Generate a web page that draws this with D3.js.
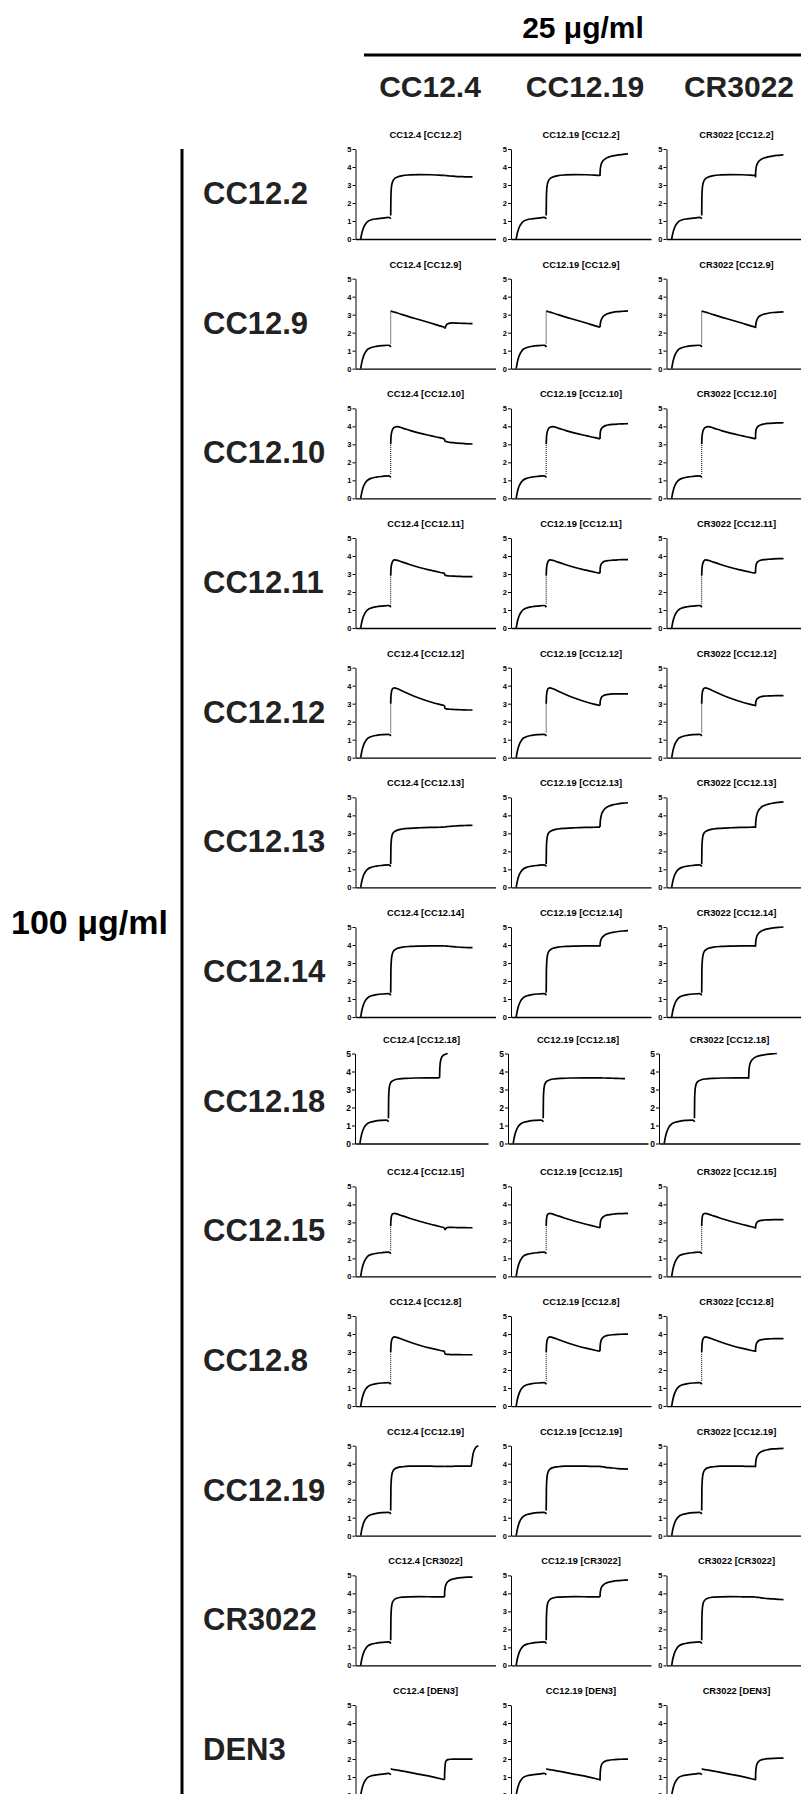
<!DOCTYPE html>
<html>
<head>
<meta charset="utf-8">
<script src="https://cdn.jsdelivr.net/npm/d3@7"></script>
<style>
  body { margin: 0; background: #fff; }
  svg { display: block; font-family: "Liberation Sans", Arial, Helvetica, sans-serif; }
</style>
</head>
<body>
<div id="container"></div>
<script>
/*
    Chart data
*/
var rowNames = ["CC12.2", "CC12.9", "CC12.10", "CC12.11", "CC12.12", "CC12.13", "CC12.14",
                "CC12.18", "CC12.15", "CC12.8", "CC12.19", "CR3022", "DEN3"];
var colNames = ["CC12.4", "CC12.19", "CR3022"];
var rowConc = "100 \u03bcg/ml";
var colConc = "25 \u03bcg/ml";
var yTicks = [0, 1, 2, 3, 4, 5];

// time points (s) of each step
var t1 = [26, 29, 33, 38, 45, 53, 62, 80, 105, 135, 165, 172, 176];
var t2 = [176, 177, 179, 182, 187, 195, 210, 235, 270, 320, 380, 420, 445];
var t3 = [445, 446, 448, 451, 456, 463, 473, 488, 508, 535, 560, 585];
// CC12.4 [CC12.19] keeps its plateau longer before the last rise
var t3Late = [445, 470, 500, 530, 560, 578, 583, 587, 592, 598, 606, 614];

// step 1 : loading, one array per row
var step1 = [
  [0, 0.18, 0.38, 0.56, 0.74, 0.88, 0.98, 1.07, 1.12, 1.16, 1.2, 1.18, 1.12],
  [0, 0.2, 0.42, 0.62, 0.82, 0.97, 1.08, 1.18, 1.24, 1.28, 1.3, 1.28, 1.2],
  [0, 0.19, 0.4, 0.6, 0.78, 0.92, 1.02, 1.12, 1.18, 1.22, 1.25, 1.23, 1.15],
  [0, 0.19, 0.4, 0.6, 0.78, 0.92, 1.02, 1.12, 1.18, 1.22, 1.25, 1.23, 1.15],
  [0, 0.2, 0.42, 0.62, 0.82, 0.97, 1.08, 1.18, 1.24, 1.28, 1.3, 1.28, 1.2],
  [0, 0.19, 0.4, 0.6, 0.78, 0.92, 1.02, 1.12, 1.18, 1.22, 1.25, 1.23, 1.15],
  [0, 0.2, 0.42, 0.62, 0.82, 0.97, 1.08, 1.18, 1.24, 1.28, 1.3, 1.28, 1.2],
  [0, 0.2, 0.42, 0.62, 0.82, 0.97, 1.08, 1.18, 1.24, 1.28, 1.3, 1.28, 1.2],
  [0, 0.21, 0.44, 0.65, 0.85, 1.0, 1.12, 1.22, 1.28, 1.32, 1.35, 1.33, 1.25],
  [0, 0.2, 0.42, 0.62, 0.82, 0.97, 1.08, 1.18, 1.24, 1.28, 1.3, 1.28, 1.2],
  [0, 0.2, 0.42, 0.62, 0.82, 0.97, 1.08, 1.18, 1.24, 1.28, 1.3, 1.28, 1.2],
  [0, 0.2, 0.42, 0.62, 0.82, 0.97, 1.08, 1.18, 1.24, 1.28, 1.3, 1.28, 1.2],
  [0, 0.18, 0.38, 0.56, 0.74, 0.88, 0.98, 1.07, 1.12, 1.16, 1.2, 1.18, 1.12]
];

// step 2 : first antibody (100 ug/ml), one array per row
var step2 = [
  [1.3, 2.3, 2.8, 3.05, 3.22, 3.35, 3.45, 3.52, 3.56, 3.58, 3.57, 3.55, 3.53],
  [3.2, 3.2, 3.19, 3.18, 3.16, 3.14, 3.09, 3.0, 2.88, 2.72, 2.52, 2.38, 2.3],
  [3.0, 3.3, 3.55, 3.72, 3.86, 3.95, 3.98, 3.9, 3.78, 3.62, 3.47, 3.37, 3.3],
  [2.9, 3.2, 3.45, 3.6, 3.72, 3.78, 3.76, 3.66, 3.53, 3.36, 3.2, 3.1, 3.05],
  [3.0, 3.35, 3.6, 3.75, 3.85, 3.88, 3.83, 3.7, 3.52, 3.3, 3.08, 2.96, 2.9],
  [1.3, 2.2, 2.6, 2.85, 3.0, 3.1, 3.18, 3.24, 3.28, 3.31, 3.33, 3.34, 3.35],
  [1.35, 2.6, 3.1, 3.4, 3.6, 3.72, 3.82, 3.88, 3.92, 3.94, 3.95, 3.95, 3.95],
  [1.4, 2.5, 2.95, 3.2, 3.36, 3.46, 3.54, 3.59, 3.62, 3.64, 3.65, 3.65, 3.65],
  [2.8, 3.1, 3.3, 3.42, 3.48, 3.5, 3.46, 3.36, 3.23, 3.06, 2.88, 2.77, 2.7],
  [3.0, 3.3, 3.55, 3.7, 3.8, 3.84, 3.8, 3.7, 3.56, 3.38, 3.2, 3.1, 3.05],
  [1.4, 2.6, 3.1, 3.4, 3.58, 3.7, 3.78, 3.83, 3.86, 3.87, 3.86, 3.85, 3.85],
  [1.4, 2.6, 3.1, 3.38, 3.55, 3.66, 3.74, 3.79, 3.81, 3.82, 3.81, 3.8, 3.8],
  [1.45, 1.45, 1.44, 1.43, 1.42, 1.41, 1.38, 1.33, 1.26, 1.15, 1.02, 0.92, 0.85]
];

// dotted rise between step 1 and step 2
var dottedRise = [false, true, true, true, true, false, false, false, true, true, false, false, false];

// step 3 : second antibody (25 ug/ml), [CC12.4, CC12.19, CR3022] per row
var step3 = [
  [[3.53, 3.53, 3.53, 3.52, 3.52, 3.51, 3.5, 3.49, 3.47, 3.46, 3.45, 3.45],
   [3.5, 3.8, 4.0, 4.15, 4.28, 4.38, 4.47, 4.55, 4.62, 4.67, 4.7, 4.73],
   [3.42, 3.75, 3.95, 4.1, 4.22, 4.33, 4.42, 4.5, 4.56, 4.62, 4.65, 4.68]],
  [[2.3, 2.26, 2.25, 2.35, 2.45, 2.5, 2.53, 2.54, 2.53, 2.52, 2.51, 2.5],
   [2.3, 2.45, 2.58, 2.7, 2.82, 2.92, 3.0, 3.07, 3.13, 3.17, 3.19, 3.21],
   [2.25, 2.4, 2.55, 2.68, 2.8, 2.9, 2.97, 3.03, 3.08, 3.12, 3.14, 3.15]],
  [[3.3, 3.22, 3.18, 3.16, 3.15, 3.13, 3.11, 3.09, 3.07, 3.05, 3.03, 3.02],
   [3.3, 3.6, 3.75, 3.85, 3.93, 3.99, 4.04, 4.08, 4.11, 4.13, 4.14, 4.15],
   [3.3, 3.65, 3.8, 3.9, 3.98, 4.04, 4.09, 4.13, 4.16, 4.18, 4.19, 4.2]],
  [[3.05, 2.97, 2.93, 2.92, 2.91, 2.9, 2.89, 2.88, 2.87, 2.86, 2.85, 2.85],
   [3.05, 3.3, 3.45, 3.55, 3.62, 3.68, 3.72, 3.75, 3.77, 3.79, 3.8, 3.8],
   [3.05, 3.35, 3.5, 3.6, 3.67, 3.73, 3.77, 3.8, 3.82, 3.84, 3.85, 3.85]],
  [[2.9, 2.8, 2.74, 2.72, 2.71, 2.7, 2.69, 2.68, 2.67, 2.66, 2.65, 2.65],
   [2.9, 3.1, 3.22, 3.32, 3.4, 3.45, 3.49, 3.52, 3.54, 3.55, 3.55, 3.55],
   [2.85, 3.05, 3.15, 3.24, 3.3, 3.35, 3.39, 3.42, 3.43, 3.44, 3.45, 3.45]],
  [[3.35, 3.35, 3.36, 3.36, 3.37, 3.38, 3.39, 3.4, 3.42, 3.43, 3.44, 3.45],
   [3.35, 3.6, 3.8, 3.98, 4.15, 4.28, 4.4, 4.5, 4.58, 4.64, 4.68, 4.7],
   [3.3, 3.6, 3.82, 4.0, 4.18, 4.32, 4.44, 4.54, 4.62, 4.68, 4.72, 4.75]],
  [[3.95, 3.95, 3.95, 3.94, 3.94, 3.93, 3.92, 3.91, 3.89, 3.87, 3.86, 3.85],
   [3.92, 4.1, 4.22, 4.32, 4.42, 4.5, 4.58, 4.65, 4.7, 4.75, 4.78, 4.8],
   [3.9, 4.15, 4.32, 4.46, 4.58, 4.68, 4.76, 4.84, 4.9, 4.95, 4.98, 5.0]],
  [[3.65, 4.05, 4.4, 4.62, 4.78, 4.88, 4.95, 5.0],
   [3.65, 3.65, 3.65, 3.65, 3.65, 3.65, 3.64, 3.64, 3.63, 3.62, 3.61, 3.6],
   [3.6, 3.95, 4.2, 4.4, 4.55, 4.66, 4.76, 4.84, 4.9, 4.95, 4.98, 5.0]],
  [[2.7, 2.62, 2.6, 2.65, 2.7, 2.72, 2.72, 2.72, 2.71, 2.71, 2.7, 2.7],
   [2.7, 2.9, 3.05, 3.16, 3.25, 3.32, 3.38, 3.42, 3.45, 3.48, 3.49, 3.5],
   [2.65, 2.8, 2.9, 2.98, 3.04, 3.08, 3.11, 3.13, 3.14, 3.15, 3.15, 3.15]],
  [[3.05, 2.95, 2.9, 2.88, 2.87, 2.87, 2.86, 2.86, 2.86, 2.85, 2.85, 2.85],
   [3.05, 3.35, 3.52, 3.65, 3.75, 3.83, 3.89, 3.93, 3.96, 3.98, 3.99, 4.0],
   [3.0, 3.25, 3.4, 3.5, 3.58, 3.64, 3.68, 3.71, 3.73, 3.74, 3.75, 3.75]],
  [[3.85, 3.85, 3.86, 3.86, 3.86, 3.86, 4.2, 4.5, 4.7, 4.85, 4.95, 5.0],
   [3.85, 3.85, 3.84, 3.84, 3.83, 3.82, 3.8, 3.78, 3.76, 3.73, 3.71, 3.7],
   [3.8, 4.05, 4.22, 4.36, 4.48, 4.58, 4.66, 4.73, 4.78, 4.82, 4.84, 4.85]],
  [[3.8, 4.1, 4.3, 4.45, 4.57, 4.66, 4.74, 4.8, 4.85, 4.88, 4.9, 4.9],
   [3.8, 4.02, 4.17, 4.3, 4.4, 4.49, 4.56, 4.62, 4.67, 4.71, 4.73, 4.75],
   [3.8, 3.79, 3.79, 3.78, 3.78, 3.77, 3.75, 3.73, 3.71, 3.69, 3.67, 3.65]],
  [[0.85, 1.3, 1.65, 1.85, 1.93, 1.97, 1.99, 2.0, 2.0, 2.0, 2.0, 2.0],
   [0.8, 1.2, 1.45, 1.62, 1.75, 1.83, 1.89, 1.93, 1.96, 1.98, 1.99, 2.0],
   [0.82, 1.25, 1.5, 1.68, 1.8, 1.89, 1.95, 1.99, 2.02, 2.04, 2.05, 2.05]]
];

/*
    Layout
*/
var W = 801, H = 1794;
var colX0 = 355.5, colStep = 155.5;
var rowY0 = 149, rowStep = 129.67;
var plotW = 140, plotH = 90;
var headX = [430, 585, 739];
// the CC12.18 row was pasted in slightly off the grid
var rowFix = { 7: { top: 1053.5, colX: [355, 508, 659], width: [133, 140, 141], tickFont: 8.5 } };

var svg = d3.select("#container").append("svg")
    .attr("width", W)
    .attr("height", H);

var y = d3.scaleLinear().domain([0, 5]).range([plotH, 0]);

function pairs(ts, vs) {
    return vs.map(function (v, i) { return [ts[i], v]; });
}

/* column header */
svg.append("text")
    .attr("x", 583).attr("y", 38)
    .attr("text-anchor", "middle")
    .style("font-size", "30px").style("font-weight", "bold")
    .text(colConc);

svg.append("line")
    .attr("x1", 364).attr("x2", W)
    .attr("y1", 55).attr("y2", 55)
    .attr("stroke", "#000").attr("stroke-width", 3);

colNames.forEach(function (name, c) {
    svg.append("text")
        .attr("x", headX[c])
        .attr("y", 97)
        .attr("text-anchor", "middle")
        .style("font-size", "30px").style("font-weight", "bold")
        .style("fill", "#222")
        .text(name);
});

/* row header */
svg.append("text")
    .attr("x", 11).attr("y", 934)
    .style("font-size", "34px").style("font-weight", "bold")
    .text(rowConc);

svg.append("line")
    .attr("x1", 182).attr("x2", 182)
    .attr("y1", 149).attr("y2", H)
    .attr("stroke", "#000").attr("stroke-width", 3);

rowNames.forEach(function (name, r) {
    var fix = rowFix[r];
    var top = fix ? fix.top : rowY0 + r * rowStep;

    svg.append("text")
        .attr("x", 203)
        .attr("y", rowY0 + r * rowStep + 55)
        .style("font-size", "31px").style("font-weight", "bold")
        .style("fill", "#222")
        .text(name);

    colNames.forEach(function (cname, c) {
        var left = fix ? fix.colX[c] : colX0 + c * colStep;
        var w = fix ? fix.width[c] : plotW;
        var x = d3.scaleLinear().domain([0, 700]).range([0, w]);
        var line = d3.line()
            .x(function (d) { return x(d[0]); })
            .y(function (d) { return y(d[1]); })
            .curve(d3.curveMonotoneX);

        var g = svg.append("g")
            .attr("transform", "translate(" + left + "," + top + ")");

        g.append("text")
            .attr("x", w / 2)
            .attr("y", -11)
            .attr("text-anchor", "middle")
            .style("font-size", "9.3px").style("font-weight", "bold")
            .text(cname + " [" + name + "]");

        var yAxis = g.append("g")
            .call(d3.axisLeft(y).tickValues(yTicks).tickFormat(d3.format("d"))
                .tickSize(3).tickSizeOuter(0));
        yAxis.selectAll("text")
            .style("font-size", (fix ? fix.tickFont : 7.5) + "px").style("font-weight", "bold")
            .style("font-family", "'Liberation Sans', Arial, sans-serif")
            .attr("x", -4);
        yAxis.select(".domain").attr("stroke-width", 1);

        g.append("g")
            .attr("transform", "translate(0," + plotH + ")")
            .call(d3.axisBottom(x).tickValues([]).tickSizeOuter(0))
            .select(".domain").attr("stroke-width", 1.3);

        var p1 = pairs(t1, step1[r]);
        var p2 = pairs(t2, step2[r]);
        var p3 = pairs((r === 10 && c === 0) ? t3Late : t3, step3[r][c]);

        if (dottedRise[r]) {
            g.append("path")
                .attr("d", d3.line()([[x(p1[p1.length - 1][0]), y(p1[p1.length - 1][1] + 0.2)],
                                      [x(p2[0][0]), y(p2[0][1])]]))
                .attr("fill", "none")
                .attr("stroke", "#000")
                .attr("stroke-width", 1)
                .attr("stroke-dasharray", "1,1");
        }

        [p1, p2, p3].forEach(function (seg) {
            g.append("path")
                .datum(seg)
                .attr("d", line)
                .attr("fill", "none")
                .attr("stroke", "#000")
                .attr("stroke-width", 1.7);
        });
    });
});
</script>
</body>
</html>
